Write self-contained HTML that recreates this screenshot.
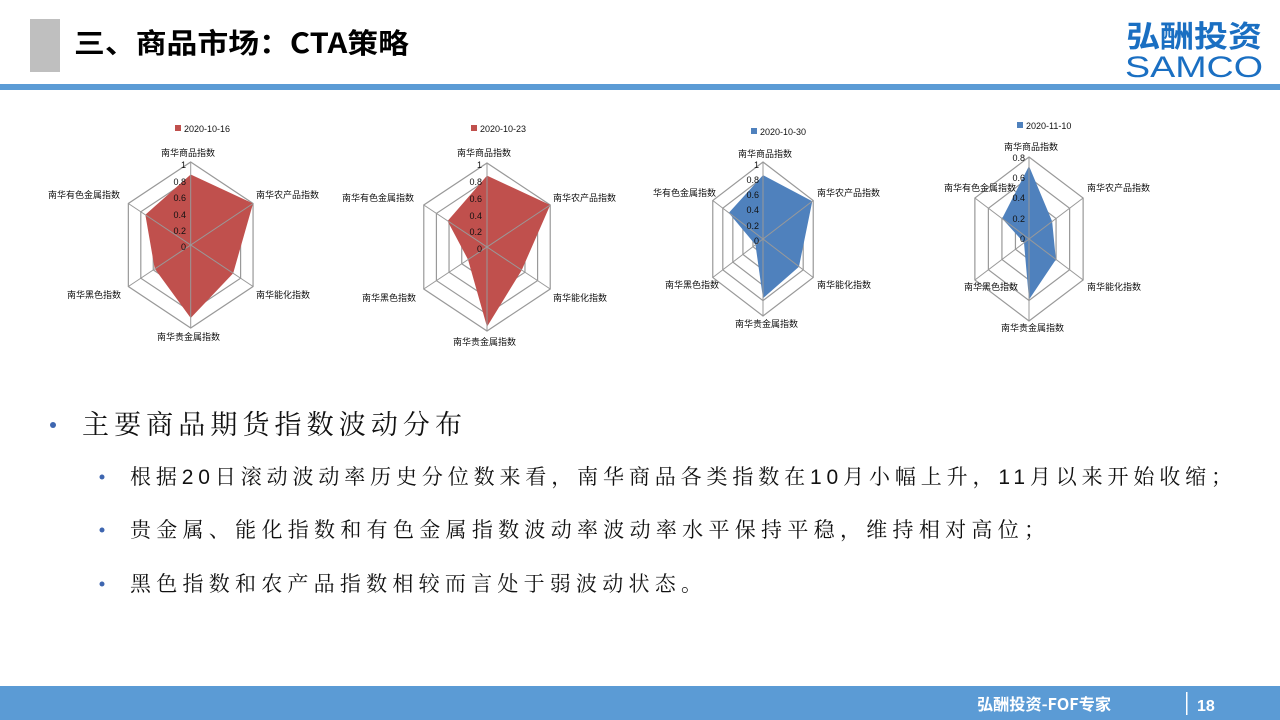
<!DOCTYPE html>
<html><head><meta charset="utf-8"><style>
html,body{margin:0;padding:0;background:#fff;}
svg{display:block;}
.lbl{font-family:"Liberation Sans","Noto Sans CJK SC",sans-serif;font-size:9px;fill:#111;}
.tk{font-family:"Liberation Sans",sans-serif;font-size:9px;fill:#111;text-anchor:end;}
.ring{fill:none;stroke:#999;stroke-width:1.2;}
.sp{stroke:#999;stroke-width:1;}
</style></head><body>
<svg width="1280" height="720" viewBox="0 0 1280 720" xmlns="http://www.w3.org/2000/svg">
<rect x="30" y="19" width="30" height="53" fill="#bfbfbf"/>
<text x="74" y="53" font-family="Noto Sans CJK SC, sans-serif" font-size="28" font-weight="bold" fill="#000" textLength="335" lengthAdjust="spacingAndGlyphs">三、商品市场：CTA策略</text>
<text x="1126" y="47" font-family="Noto Sans CJK SC, sans-serif" font-size="30" font-weight="bold" fill="#1a6fc2" textLength="136" lengthAdjust="spacingAndGlyphs">弘酬投资</text>
<text x="1125" y="77" font-family="Liberation Sans, sans-serif" font-size="30" fill="#1a6fc2" textLength="138" lengthAdjust="spacingAndGlyphs">SAMCO</text>
<rect x="0" y="84" width="1280" height="6" fill="#5b9bd5"/>

<!-- Chart 1 -->
<rect x="175" y="125" width="6" height="6" fill="#c0504d"/><text class="lbl" x="184" y="132">2020-10-16</text>
<g transform="translate(190.7,245) scale(72,83)">
<polygon class="ring" vector-effect="non-scaling-stroke" points="0,-1 0.866,-0.5 0.866,0.5 0,1 -0.866,0.5 -0.866,-0.5"/>
<polygon class="ring" vector-effect="non-scaling-stroke" points="0,-0.8 0.693,-0.4 0.693,0.4 0,0.8 -0.693,0.4 -0.693,-0.4"/>
<polygon class="ring" vector-effect="non-scaling-stroke" points="0,-0.6 0.52,-0.3 0.52,0.3 0,0.6 -0.52,0.3 -0.52,-0.3"/>
<polygon class="ring" vector-effect="non-scaling-stroke" points="0,-0.4 0.346,-0.2 0.346,0.2 0,0.4 -0.346,0.2 -0.346,-0.2"/>
<polygon class="ring" vector-effect="non-scaling-stroke" points="0,-0.2 0.173,-0.1 0.173,0.1 0,0.2 -0.173,0.1 -0.173,-0.1"/>
<polygon fill="#c0504d" points="0,-0.85 0.866,-0.5 0.59,0.34 0,0.88 -0.5,0.285 -0.63,-0.365"/>
<path class="sp" vector-effect="non-scaling-stroke" d="M0,-1L0,1M0.866,-0.5L-0.866,0.5M0.866,0.5L-0.866,-0.5"/>
</g>
<text class="tk" x="186" y="168">1</text><text class="tk" x="186" y="185">0.8</text><text class="tk" x="186" y="201">0.6</text><text class="tk" x="186" y="218">0.4</text><text class="tk" x="186" y="234">0.2</text><text class="tk" x="186" y="250">0</text>
<text class="lbl" x="161" y="156">南华商品指数</text>
<text class="lbl" x="256" y="198">南华农产品指数</text>
<text class="lbl" x="48" y="198">南华有色金属指数</text>
<text class="lbl" x="256" y="298">南华能化指数</text>
<text class="lbl" x="67" y="298">南华黑色指数</text>
<text class="lbl" x="157" y="340">南华贵金属指数</text>

<!-- Chart 2 -->
<rect x="471" y="125" width="6" height="6" fill="#c0504d"/><text class="lbl" x="480" y="132">2020-10-23</text>
<g transform="translate(487,247) scale(73,84)">
<polygon class="ring" vector-effect="non-scaling-stroke" points="0,-1 0.866,-0.5 0.866,0.5 0,1 -0.866,0.5 -0.866,-0.5"/>
<polygon class="ring" vector-effect="non-scaling-stroke" points="0,-0.8 0.693,-0.4 0.693,0.4 0,0.8 -0.693,0.4 -0.693,-0.4"/>
<polygon class="ring" vector-effect="non-scaling-stroke" points="0,-0.6 0.52,-0.3 0.52,0.3 0,0.6 -0.52,0.3 -0.52,-0.3"/>
<polygon class="ring" vector-effect="non-scaling-stroke" points="0,-0.4 0.346,-0.2 0.346,0.2 0,0.4 -0.346,0.2 -0.346,-0.2"/>
<polygon class="ring" vector-effect="non-scaling-stroke" points="0,-0.2 0.173,-0.1 0.173,0.1 0,0.2 -0.173,0.1 -0.173,-0.1"/>
<polygon fill="#c0504d" points="0,-0.85 0.866,-0.5 0.476,0.275 0,0.95 -0.26,0.15 -0.54,-0.31"/>
<path class="sp" vector-effect="non-scaling-stroke" d="M0,-1L0,1M0.866,-0.5L-0.866,0.5M0.866,0.5L-0.866,-0.5"/>
</g>
<text class="tk" x="482" y="168">1</text><text class="tk" x="482" y="185">0.8</text><text class="tk" x="482" y="202">0.6</text><text class="tk" x="482" y="219">0.4</text><text class="tk" x="482" y="235">0.2</text><text class="tk" x="482" y="252">0</text>
<text class="lbl" x="457" y="156">南华商品指数</text>
<text class="lbl" x="553" y="201">南华农产品指数</text>
<text class="lbl" x="342" y="201">南华有色金属指数</text>
<text class="lbl" x="553" y="301">南华能化指数</text>
<text class="lbl" x="362" y="301">南华黑色指数</text>
<text class="lbl" x="453" y="345">南华贵金属指数</text>

<!-- Chart 3 -->
<rect x="751" y="128" width="6" height="6" fill="#4f81bd"/><text class="lbl" x="760" y="135">2020-10-30</text>
<g transform="translate(763,239) scale(58,77)">
<polygon class="ring" vector-effect="non-scaling-stroke" points="0,-1 0.866,-0.5 0.866,0.5 0,1 -0.866,0.5 -0.866,-0.5"/>
<polygon class="ring" vector-effect="non-scaling-stroke" points="0,-0.8 0.693,-0.4 0.693,0.4 0,0.8 -0.693,0.4 -0.693,-0.4"/>
<polygon class="ring" vector-effect="non-scaling-stroke" points="0,-0.6 0.52,-0.3 0.52,0.3 0,0.6 -0.52,0.3 -0.52,-0.3"/>
<polygon class="ring" vector-effect="non-scaling-stroke" points="0,-0.4 0.346,-0.2 0.346,0.2 0,0.4 -0.346,0.2 -0.346,-0.2"/>
<polygon class="ring" vector-effect="non-scaling-stroke" points="0,-0.2 0.173,-0.1 0.173,0.1 0,0.2 -0.173,0.1 -0.173,-0.1"/>
<polygon fill="#4f81bd" points="0,-0.83 0.85,-0.49 0.62,0.36 0,0.77 -0.13,0.075 -0.59,-0.34"/>
<path class="sp" vector-effect="non-scaling-stroke" d="M0,-1L0,1M0.866,-0.5L-0.866,0.5M0.866,0.5L-0.866,-0.5"/>
</g>
<text class="tk" x="759" y="168">1</text><text class="tk" x="759" y="183">0.8</text><text class="tk" x="759" y="198">0.6</text><text class="tk" x="759" y="213">0.4</text><text class="tk" x="759" y="229">0.2</text><text class="tk" x="759" y="244">0</text>
<text class="lbl" x="738" y="157">南华商品指数</text>
<text class="lbl" x="817" y="196">南华农产品指数</text>
<text class="lbl" x="653" y="196">华有色金属指数</text>
<text class="lbl" x="817" y="288">南华能化指数</text>
<text class="lbl" x="665" y="288">南华黑色指数</text>
<text class="lbl" x="735" y="327">南华贵金属指数</text>

<!-- Chart 4 -->
<rect x="1017" y="122" width="6" height="6" fill="#4f81bd"/><text class="lbl" x="1026" y="129">2020-11-10</text>
<g transform="translate(1029,239) scale(62.5,82)">
<polygon class="ring" vector-effect="non-scaling-stroke" points="0,-1 0.866,-0.5 0.866,0.5 0,1 -0.866,0.5 -0.866,-0.5"/>
<polygon class="ring" vector-effect="non-scaling-stroke" points="0,-0.75 0.65,-0.375 0.65,0.375 0,0.75 -0.65,0.375 -0.65,-0.375"/>
<polygon class="ring" vector-effect="non-scaling-stroke" points="0,-0.5 0.433,-0.25 0.433,0.25 0,0.5 -0.433,0.25 -0.433,-0.25"/>
<polygon class="ring" vector-effect="non-scaling-stroke" points="0,-0.25 0.217,-0.125 0.217,0.125 0,0.25 -0.217,0.125 -0.217,-0.125"/>
<polygon fill="#4f81bd" points="0,-0.89 0.37,-0.215 0.43,0.25 0,0.74 -0.08,0.045 -0.43,-0.25"/>
<path class="sp" vector-effect="non-scaling-stroke" d="M0,-1L0,1M0.866,-0.5L-0.866,0.5M0.866,0.5L-0.866,-0.5"/>
</g>
<text class="tk" x="1025" y="161">0.8</text><text class="tk" x="1025" y="181">0.6</text><text class="tk" x="1025" y="201">0.4</text><text class="tk" x="1025" y="222">0.2</text><text class="tk" x="1025" y="242">0</text>
<text class="lbl" x="1004" y="150">南华商品指数</text>
<text class="lbl" x="1087" y="191">南华农产品指数</text>
<text class="lbl" x="944" y="191">南华有色金属指数</text>
<text class="lbl" x="1087" y="290">南华能化指数</text>
<text class="lbl" x="964" y="290">南华黑色指数</text>
<text class="lbl" x="1001" y="331">南华贵金属指数</text>

<!-- bullets -->
<circle cx="53" cy="425" r="3" fill="#3e66b0"/>
<text x="82" y="434" font-family="Noto Serif CJK SC, serif" font-size="27" fill="#111" textLength="380" lengthAdjust="spacing">主要商品期货指数波动分布</text>
<circle cx="102" cy="477" r="2.5" fill="#3e66b0"/>
<text x="130" y="484" font-family="Liberation Sans, Noto Serif CJK SC, serif" font-size="21" fill="#111" textLength="1102" lengthAdjust="spacing">根据20日滚动波动率历史分位数来看，南华商品各类指数在10月小幅上升，11月以来开始收缩；</text>
<circle cx="102" cy="530" r="2.5" fill="#3e66b0"/>
<text x="130" y="537" font-family="Noto Serif CJK SC, serif" font-size="21" fill="#111" textLength="915" lengthAdjust="spacing">贵金属、能化指数和有色金属指数波动率波动率水平保持平稳，维持相对高位；</text>
<circle cx="102" cy="584" r="2.5" fill="#3e66b0"/>
<text x="130" y="591" font-family="Noto Serif CJK SC, serif" font-size="21" fill="#111" textLength="572" lengthAdjust="spacing">黑色指数和农产品指数相较而言处于弱波动状态。</text>

<!-- footer -->
<rect x="0" y="686" width="1280" height="34" fill="#5b9bd5"/>
<text x="977" y="710" font-family="Noto Sans CJK SC, sans-serif" font-size="16" font-weight="bold" fill="#fff" textLength="134" lengthAdjust="spacingAndGlyphs">弘酬投资-FOF专家</text>
<rect x="1186" y="692" width="1.5" height="23" fill="#fff"/>
<text x="1197" y="711" font-family="Liberation Sans, sans-serif" font-size="16" font-weight="bold" fill="#fff">18</text>
</svg>
</body></html>
